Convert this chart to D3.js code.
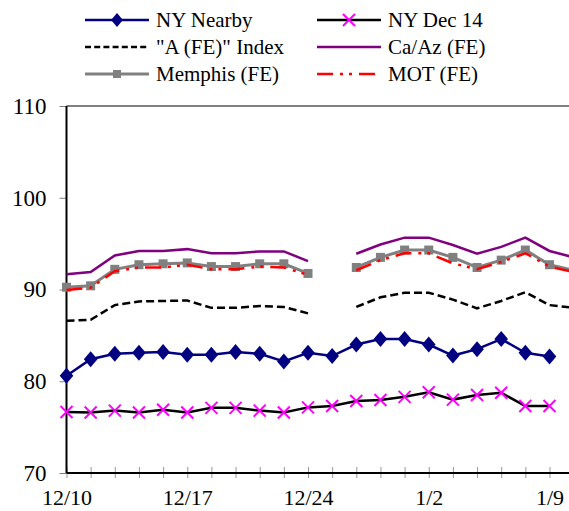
<!DOCTYPE html>
<html>
<head>
<meta charset="utf-8">
<script src="https://cdn.jsdelivr.net/npm/d3@7"></script>
<style>
  body { margin: 0; background: #fff; }
  svg text { font-family: "Liberation Serif", "Times New Roman", Times, "Nimbus Roman", "Noto Serif", "DejaVu Serif", serif; }
</style>
</head>
<body>
<div id="chart"></div>
<script>
// Chart data (business days, 12/25 and 1/1 closed)
var dates = ["12/10","12/11","12/12","12/13","12/14","12/17","12/18","12/19","12/20","12/21",
  "12/24","12/26","12/27","12/28","12/31","1/2","1/3","1/4","1/7","1/8","1/9","1/10"];
var dateLabels = ["12/10","12/17","12/24","1/2","1/9"];
var yTicks = [70, 80, 90, 100, 110];

var nyNearby = [80.6,82.4,83.0,83.1,83.2,82.9,82.9,83.2,83.0,82.15,83.1,82.75,84.0,84.6,84.6,84.0,82.8,83.5,84.6,83.1,82.7,null];
var nyDec14 = [76.65,76.6,76.8,76.6,76.9,76.6,77.1,77.1,76.8,76.6,77.15,77.3,77.85,77.95,78.3,78.8,78.0,78.5,78.75,77.3,77.3,null];
var aIndex = [86.6,86.7,88.3,88.7,88.75,88.8,88.0,88.0,88.2,88.1,87.4,null,88.1,89.15,89.65,89.65,88.9,87.95,88.75,89.7,88.3,88.0];
var caAz = [91.65,91.9,93.7,94.2,94.2,94.4,93.95,93.95,94.15,94.15,93.1,null,93.9,94.9,95.65,95.65,94.85,93.9,94.65,95.65,94.2,93.5];
var memphis = [90.25,90.4,92.2,92.7,92.8,92.9,92.5,92.5,92.8,92.8,91.75,null,92.4,93.5,94.3,94.3,93.5,92.4,93.2,94.3,92.7,92.1];
var mot = [89.95,90.2,92.0,92.4,92.4,92.7,92.2,92.2,92.5,92.4,91.6,null,92.1,93.2,93.95,93.95,92.85,92.2,93.0,93.95,92.5,91.9];

var svgWidth = 569;
var svgHeight = 511;

var svg = d3.select("#chart")
  .append("svg")
  .attr("width", svgWidth)
  .attr("height", svgHeight);

// scales
var xScale = d3.scalePoint()
  .domain(dates)
  .range([66.5, 66.5 + 21 * 24.15]);

var yScale = d3.scaleLinear()
  .domain([70, 110])
  .range([473, 106]);

var plotLeft = 66.5, plotTop = 106, plotBottom = 473, plotRight = 600;

// top border (gray)
svg.append("line")
  .attr("x1", plotLeft).attr("x2", plotRight)
  .attr("y1", plotTop).attr("y2", plotTop)
  .attr("stroke", "#808080").attr("stroke-width", 2);

// y axis
var yAxis = d3.axisLeft(yScale).tickValues(yTicks).tickSize(7).tickPadding(13);
var yG = svg.append("g")
  .attr("transform", `translate(${plotLeft},0)`)
  .call(yAxis);
yG.select(".domain").remove();
yG.selectAll(".tick line").attr("stroke", "#808080");
yG.selectAll(".tick text")
  .style("font-size", "23px")
  .attr("fill", "#000");

// x axis
var xAxis = d3.axisBottom(xScale)
  .tickSize(5)
  .tickPadding(11)
  .tickFormat(d => dateLabels.indexOf(d) >= 0 ? d : "");
var xG = svg.append("g")
  .attr("transform", `translate(0,${plotBottom})`)
  .call(xAxis);
xG.select(".domain").remove();
xG.selectAll(".tick line").attr("y1", -6).attr("y2", 5).attr("stroke", "#999");
xG.selectAll(".tick text")
  .style("font-size", "22px")
  .attr("fill", "#000");

svg.append("line")
  .attr("x1", plotLeft).attr("x2", plotRight)
  .attr("y1", plotBottom).attr("y2", plotBottom)
  .attr("stroke", "#000").attr("stroke-width", 2);
svg.append("line")
  .attr("x1", plotLeft).attr("x2", plotLeft)
  .attr("y1", plotTop).attr("y2", plotBottom)
  .attr("stroke", "#000").attr("stroke-width", 2);

var series = [
  {name: "NY Nearby", values: nyNearby, color: "#000080", width: 2.5, dash: null, marker: "diamond"},
  {name: "NY Dec 14", values: nyDec14, color: "#000", width: 2.5, dash: null, marker: "cross"},
  {name: "\"A (FE)\" Index", values: aIndex, color: "#000", width: 2.5, dash: "8,4", marker: null},
  {name: "Ca/Az (FE)", values: caAz, color: "#800080", width: 2.5, dash: null, marker: null},
  {name: "Memphis (FE)", values: memphis, color: "#808080", width: 3, dash: null, marker: "square"},
  {name: "MOT (FE)", values: mot, color: "#ff0000", width: 2.5, dash: "16,7,3,6,3,7", marker: null}
];

var line = d3.line()
  .defined(d => d.v != null)
  .x(d => xScale(d.date))
  .y(d => yScale(d.v));

function drawMarker(g, type, x, y, small) {
  if (type == "diamond") {
    var s = small ? 7 : 8;
    g.append("path")
      .attr("d", `M${x},${y - s}L${x + s * 0.85},${y}L${x},${y + s}L${x - s * 0.85},${y}Z`)
      .attr("fill", "#000080");
  } else if (type == "cross") {
    var c = 6;
    g.append("path")
      .attr("d", `M${x - c},${y - c}L${x + c},${y + c}M${x - c},${y + c}L${x + c},${y - c}`)
      .attr("stroke", "#ff00ff").attr("stroke-width", 2).attr("fill", "none");
  } else if (type == "square") {
    var q = small ? 4 : 4.5;
    g.append("rect")
      .attr("x", x - q).attr("y", y - q)
      .attr("width", 2 * q).attr("height", 2 * q)
      .attr("fill", "#808080");
  }
}

series.forEach(function(s) {
  var pts = dates.map((d, i) => ({date: d, v: s.values[i]}));
  var g = svg.append("g");
  g.append("path")
    .datum(pts)
    .attr("d", line)
    .attr("fill", "none")
    .attr("stroke", s.color)
    .attr("stroke-width", s.width)
    .attr("stroke-dasharray", s.dash);
  if (s.marker) {
    pts.filter(p => p.v != null).forEach(function(p) {
      drawMarker(g, s.marker, xScale(p.date), yScale(p.v), false);
    });
  }
});

// legend
var legend = svg.append("g");
series.forEach(function(s, i) {
  var col = i % 2, row = Math.floor(i / 2);
  var lx = col == 0 ? 85 : 317;
  var ly = 20 + row * 27;
  legend.append("line")
    .attr("x1", lx).attr("x2", lx + 64)
    .attr("y1", ly).attr("y2", ly)
    .attr("stroke", s.color)
    .attr("stroke-width", s.width)
    .attr("stroke-dasharray", s.dash == "8,4" ? "6,3.2" : s.dash);
  if (s.marker) drawMarker(legend, s.marker, lx + 32, ly, true);
  legend.append("text")
    .attr("x", lx + 71)
    .attr("y", ly + 7)
    .style("font-size", "21px")
    .text(s.name);
});
</script>
</body>
</html>
